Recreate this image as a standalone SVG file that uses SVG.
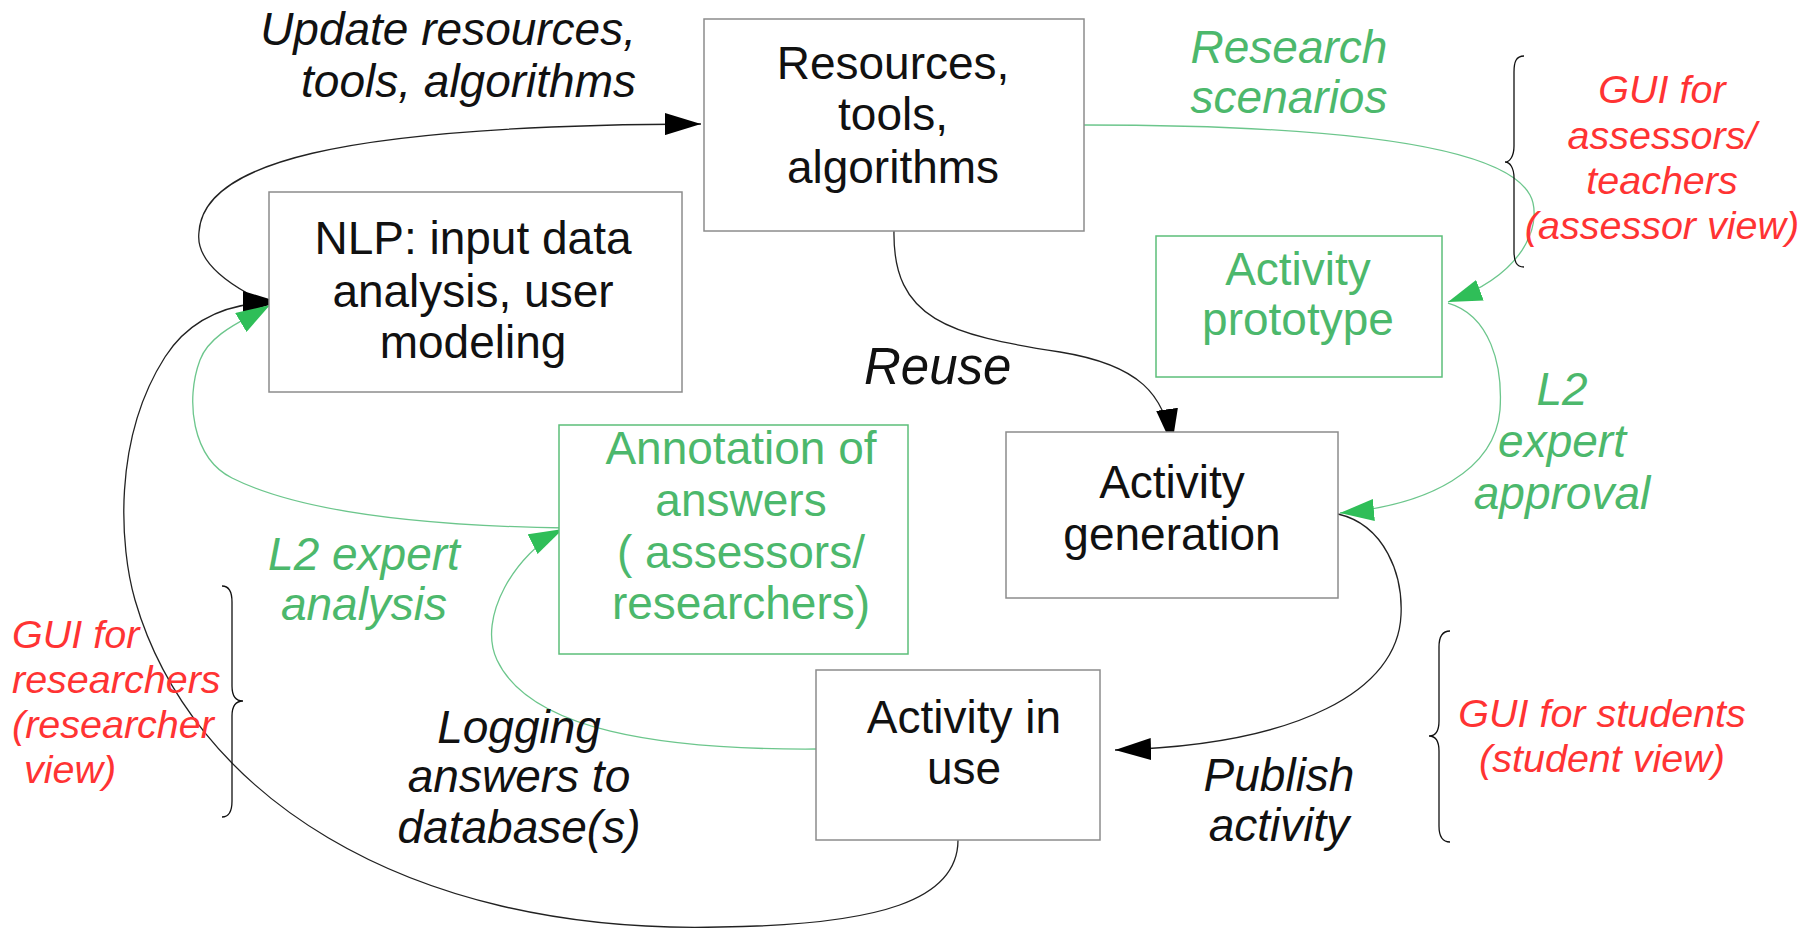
<svg xmlns="http://www.w3.org/2000/svg" width="1817" height="928" viewBox="0 0 1817 928">
<style>
.box{fill:#fff;stroke:#8c8c8c;stroke-width:1.5}
.gbox{fill:#fff;stroke:#5cbf7a;stroke-width:1.5}
.nt{font-family:"Liberation Sans",Arial,sans-serif;font-size:46px;fill:#111;text-anchor:middle}
.gt{font-family:"Liberation Sans",Arial,sans-serif;font-size:46px;fill:#4cb86c;text-anchor:middle}
.it{font-family:"Liberation Sans",Arial,sans-serif;font-size:46px;font-style:italic;fill:#111;text-anchor:middle}
.git{font-family:"Liberation Sans",Arial,sans-serif;font-size:46px;font-style:italic;fill:#4cb86c;text-anchor:middle}
.rt{font-family:"Liberation Sans",Arial,sans-serif;font-size:39.5px;font-style:italic;fill:#ff3333}
.bk{fill:none;stroke:#222;stroke-width:1.3}
.gr{fill:none;stroke:#6cc68c;stroke-width:1.3}
.brace{fill:none;stroke:#111;stroke-width:1.3}
</style>
<defs>
<marker id="ab" markerUnits="userSpaceOnUse" markerWidth="36" markerHeight="22" refX="36" refY="11" orient="auto">
<path d="M0,0 L36,11 L0,22 z" fill="#000"/>
</marker>
<marker id="ag" markerUnits="userSpaceOnUse" markerWidth="34" markerHeight="22" refX="34" refY="11" orient="auto">
<path d="M0,0 L34,11 L0,22 z" fill="#2fbe58"/>
</marker>
</defs>

<g id="connectors">
<path class="bk" d="M 247 293 C 215 275, 196 255, 199 232 C 203 165, 330 125, 701 124" marker-end="url(#ab)"/>
<path class="bk" d="M 958 840 C 958 900, 880 925, 720 927 C 400 935, 190 790, 135 600 C 120 548, 112 440, 165 357 C 190 318, 230 302, 279 302" marker-end="url(#ab)"/>
<path class="bk" d="M 894 230 C 892 320, 950 335, 1060 352 C 1140 365, 1165 395, 1172 445" marker-end="url(#ab)"/>
<path class="gr" d="M 1084 125 C 1300 125, 1500 140, 1530 195 C 1541 215, 1535 270, 1448 302" marker-end="url(#ag)"/>
<path class="gr" d="M 1448 303 C 1490 315, 1503 365, 1500 410 C 1495 470, 1430 505, 1340 513" marker-end="url(#ag)"/>
<path class="bk" d="M 1338 514 C 1385 525, 1403 575, 1401 615 C 1398 690, 1300 745, 1115 750" marker-end="url(#ab)"/>
<path class="gr" d="M 567 528 C 420 526, 300 512, 232 478 C 192 458, 185 400, 200 360 C 210 333, 245 320, 270 305" marker-end="url(#ag)"/>
<path class="gr" d="M 816 749 C 660 750, 530 730, 497 660 C 477 618, 515 553, 563 529" marker-end="url(#ag)"/>
</g>

<g id="node-resources">
<rect class="box" x="704" y="19" width="380" height="212"/>
<text class="nt" x="893" y="79">Resources,</text>
<text class="nt" x="893" y="130">tools,</text>
<text class="nt" x="893" y="183">algorithms</text>
</g>

<g id="node-nlp">
<rect class="box" x="269" y="192" width="413" height="200"/>
<text class="nt" x="473" y="254">NLP: input data</text>
<text class="nt" x="473" y="307">analysis, user</text>
<text class="nt" x="473" y="358">modeling</text>
</g>

<g id="node-prototype">
<rect class="gbox" x="1156" y="236" width="286" height="141"/>
<text class="gt" x="1298" y="285">Activity</text>
<text class="gt" x="1298" y="335">prototype</text>
</g>

<g id="node-generation">
<rect class="box" x="1006" y="432" width="332" height="166"/>
<text class="nt" x="1172" y="498">Activity</text>
<text class="nt" x="1172" y="550">generation</text>
</g>

<g id="node-annotation">
<rect class="gbox" x="559" y="425" width="349" height="229"/>
<text class="gt" x="741" y="464">Annotation of</text>
<text class="gt" x="741" y="516">answers</text>
<text class="gt" x="741" y="568">( assessors/</text>
<text class="gt" x="741" y="619">researchers)</text>
</g>

<g id="node-inuse">
<rect class="box" x="816" y="670" width="284" height="170"/>
<text class="nt" x="964" y="733">Activity in</text>
<text class="nt" x="964" y="784">use</text>
</g>

<g id="labels">
<text class="it" style="text-anchor:end" x="636" y="45">Update resources,</text>
<text class="it" style="text-anchor:end" x="636" y="97">tools, algorithms</text>
<text class="git" x="1289" y="63">Research</text>
<text class="git" x="1289" y="113">scenarios</text>
<text class="it" style="font-size:51px;text-anchor:start" x="864" y="384">Reuse</text>
<text class="git" x="1562" y="405">L2</text>
<text class="git" x="1562" y="457">expert</text>
<text class="git" x="1562" y="509">approval</text>
<text class="git" x="364" y="570">L2 expert</text>
<text class="git" x="364" y="620">analysis</text>
<text class="it" x="519" y="743">Logging</text>
<text class="it" x="519" y="792">answers to</text>
<text class="it" x="519" y="843">database(s)</text>
<text class="it" x="1279" y="791">Publish</text>
<text class="it" x="1279" y="841">activity</text>
</g>

<g id="gui-assessors">
<path class="brace" d="M 1524 56 C 1516 56, 1514 62, 1514 72 L 1514 146 C 1514 156, 1510 162, 1505 162 C 1510 162, 1514 168, 1514 178 L 1514 251 C 1514 261, 1516 267, 1524 267"/>
<text class="rt" style="text-anchor:middle" x="1662" y="103">GUI for</text>
<text class="rt" style="text-anchor:middle" x="1662" y="149">assessors/</text>
<text class="rt" style="text-anchor:middle" x="1662" y="194">teachers</text>
<text class="rt" style="text-anchor:middle" x="1662" y="239">(assessor view)</text>
</g>

<g id="gui-researchers">
<path class="brace" d="M 222 586 C 229 586, 232 592, 232 602 L 232 686 C 232 696, 236 701, 243 701 C 236 701, 232 706, 232 716 L 232 801 C 232 811, 229 817, 222 817"/>
<text class="rt" x="12" y="648">GUI for</text>
<text class="rt" x="12" y="693">researchers</text>
<text class="rt" x="12" y="738">(researcher</text>
<text class="rt" x="24" y="783">view)</text>
</g>

<g id="gui-students">
<path class="brace" d="M 1450 631 C 1442 631, 1439 637, 1439 647 L 1439 721 C 1439 731, 1435 736, 1429 736 C 1435 736, 1439 741, 1439 751 L 1439 826 C 1439 836, 1442 842, 1450 842"/>
<text class="rt" style="text-anchor:middle" x="1602" y="727">GUI for students</text>
<text class="rt" style="text-anchor:middle" x="1602" y="772">(student view)</text>
</g>
</svg>
